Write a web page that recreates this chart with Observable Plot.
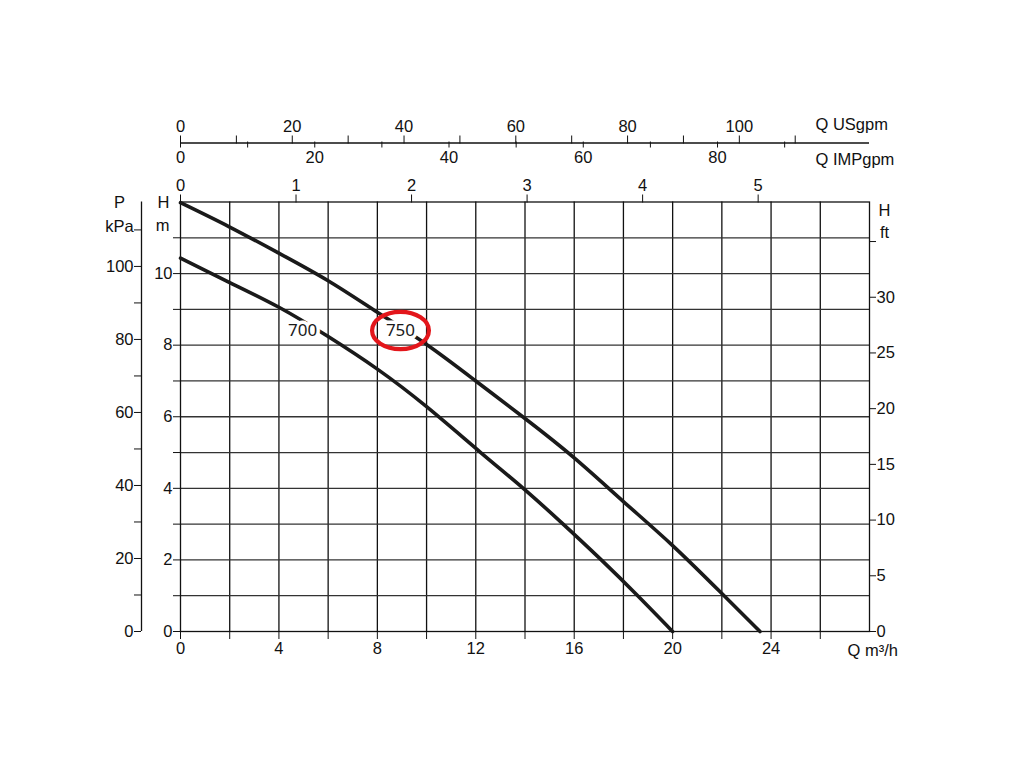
<!DOCTYPE html>
<html><head><meta charset="utf-8">
<script src="https://cdn.jsdelivr.net/npm/d3@7"></script>
<script src="https://cdn.jsdelivr.net/npm/@observablehq/plot@0.6"></script>
<style>html,body{margin:0;padding:0;background:#fff} svg{display:block}</style>
</head><body><div id="chart"></div>
<script>
// Pump performance curves: flow Q (m³/h) vs head H (m)
const q700 = [0, 2, 4, 6, 8, 10, 12.2, 13.93, 15.55, 17.1, 18.58, 20.0];
const h700 = [10.43, 9.75, 9.06, 8.24, 7.33, 6.28, 5.0, 4.0, 3.0, 2.0, 1.0, 0];
const q750 = [0, 2, 4, 6, 8, 10, 12, 14, 16, 18, 20, 22, 23.55];
const h750 = [11.98, 11.3, 10.57, 9.8, 8.92, 8.02, 7.0, 5.95, 4.85, 3.63, 2.4, 1.06, 0];

const curveNames = ["700", "750"];
const curveLabelQ = [4.96, 8.94];
const curveLabelH = [8.41, 8.41];
const highlighted = ["750"];

// axis tick values (in each axis' own unit)
const qTicks = [0, 2, 4, 6, 8, 10, 12, 14, 16, 18, 20, 22, 24, 26];
const qLabels = [0, 4, 8, 12, 16, 20, 24];
const qGridV = [2, 4, 6, 8, 10, 12, 14, 16, 18, 20, 22, 24, 26];
const hTicks = [0, 1, 2, 3, 4, 5, 6, 7, 8, 9, 10, 11];
const hLabels = [0, 2, 4, 6, 8, 10];
const hGrid = [1, 2, 3, 4, 5, 6, 7, 8, 9, 10, 11];
const kpaTicks = [0, 10, 20, 30, 40, 50, 60, 70, 80, 90, 100, 110];
const kpaLabels = [0, 20, 40, 60, 80, 100];
const ftTicks = [0, 5, 10, 15, 20, 25, 30, 35];
const ftLabels = [0, 5, 10, 15, 20, 25, 30];
const topTicks = [0, 1, 2, 3, 4, 5];
const usTicks = [0, 10, 20, 30, 40, 50, 60, 70, 80, 90, 100, 110];
const usLabels = [0, 20, 40, 60, 80, 100];
const impTicks = [0, 10, 20, 30, 40, 50, 60, 70, 80, 90];
const impLabels = [0, 20, 40, 60, 80];

// unit conversions as drawn on the chart
const M_PER_KPA = 0.102;
const M_PER_FT = 0.3113;
const M3H_PER_TOP = 4.695;
const M3H_PER_USGPM = 0.2271;
const M3H_PER_IMPGPM = 0.2728;

const fmt = (factor, labels) => d => {
  const v = Math.round(d / factor);
  return labels.includes(v) ? String(v) : "";
};

const ellipse = {
  draw(ctx, size) {
    const r = Math.sqrt(size / Math.PI), rx = r * 1.52, ry = r, k = 0.5523;
    ctx.moveTo(rx, 0);
    ctx.bezierCurveTo(rx, ry * k, rx * k, ry, 0, ry);
    ctx.bezierCurveTo(-rx * k, ry, -rx, ry * k, -rx, 0);
    ctx.bezierCurveTo(-rx, -ry * k, -rx * k, -ry, 0, -ry);
    ctx.bezierCurveTo(rx * k, -ry, rx, -ry * k, rx, 0);
    ctx.closePath();
  }
};

const d700 = q700.map((q, i) => ({q, h: h700[i]}));
const d750 = q750.map((q, i) => ({q, h: h750[i]}));
const labels = curveNames.map((name, i) => ({name, q: curveLabelQ[i], h: curveLabelH[i]}));

const ink = "#111";
const fs = 16.5;

const chart = Plot.plot({
  width: 1024,
  height: 768,
  marginLeft: 180,
  marginRight: 155,
  marginTop: 201.5,
  marginBottom: 137,
  style: {fontFamily: "'Liberation Sans', Arial, sans-serif", fontSize: fs + "px", color: ink, background: "#fff"},
  x: {domain: [0, 28]},
  y: {domain: [0, 12]},
  marks: [
    Plot.ruleX(qGridV, {stroke: ink, strokeWidth: 1.3}),
    Plot.ruleY(hGrid, {stroke: "#333", strokeWidth: 1.3}),
    Plot.frame({stroke: ink, strokeWidth: 1.3}),
    Plot.line(d700, {x: "q", y: "h", curve: "natural", stroke: "#1a1a1a", strokeWidth: 3.6}),
    Plot.line(d750, {x: "q", y: "h", curve: "natural", stroke: "#1a1a1a", strokeWidth: 3.6}),
    Plot.text(labels, {x: "q", y: "h", text: "name", fontFamily: "'Noto Sans', sans-serif", fontSize: 17,
      fill: "#1a1a1a", stroke: "white", strokeWidth: 7, lineAnchor: "middle"}),
    Plot.dot(labels.filter(d => highlighted.includes(d.name)), {x: "q", y: "h", r: 18.7, symbol: ellipse,
      fill: "none", stroke: "#e3161b", strokeWidth: 4.2}),

    // bottom: Q m³/h
    Plot.axisX(qTicks, {anchor: "bottom", tickSize: 8, label: null, tickFormat: fmt(1, qLabels)}),
    // top: secondary flow scale
    Plot.axisX(topTicks.map(v => v * M3H_PER_TOP), {anchor: "top", tickSize: 8, label: null, tickFormat: fmt(M3H_PER_TOP, topTicks)}),
    // USgpm (above shared line)
    Plot.ruleY([12], {dy: -59, stroke: ink, strokeWidth: 1.3}),
    Plot.axisX(usTicks.map(v => v * M3H_PER_USGPM), {anchor: "top", dy: -59, tickSize: 8, label: null, tickFormat: fmt(M3H_PER_USGPM, usLabels)}),
    // IMPgpm (below shared line)
    Plot.axisX(impTicks.map(v => v * M3H_PER_IMPGPM), {anchor: "bottom", dy: -489.5, tickSize: 6, label: null, tickFormat: fmt(M3H_PER_IMPGPM, impLabels)}),
    // left: H m
    Plot.axisY(hTicks, {anchor: "left", tickSize: 7, tickPadding: 1, label: null, tickFormat: fmt(1, hLabels)}),
    // left outer: P kPa
    Plot.ruleX([0], {dx: -39, stroke: ink, strokeWidth: 1.3}),
    Plot.axisY(kpaTicks.map(v => v * M_PER_KPA), {anchor: "left", dx: -39, tickSize: 7, tickPadding: 1, label: null, tickFormat: fmt(M_PER_KPA, kpaLabels)}),
    // right: H ft
    Plot.axisY(ftTicks.map(v => v * M_PER_FT), {anchor: "right", tickSize: 6, tickPadding: 1, label: null, tickFormat: fmt(M_PER_FT, ftLabels)}),

    // unit labels
    Plot.text(["Q m³/h"], {frameAnchor: "bottom-right", textAnchor: "start", lineAnchor: "middle", dx: -22, dy: 19}),
    Plot.text(["Q USgpm"], {frameAnchor: "top-right", textAnchor: "start", lineAnchor: "middle", dx: -54, dy: -77.5}),
    Plot.text(["Q IMPgpm"], {frameAnchor: "top-right", textAnchor: "start", lineAnchor: "middle", dx: -54, dy: -42.5}),
    Plot.text(["H"], {frameAnchor: "top-right", textAnchor: "middle", lineAnchor: "middle", dx: 15, dy: 8.5}),
    Plot.text(["ft"], {frameAnchor: "top-right", textAnchor: "middle", lineAnchor: "middle", dx: 15, dy: 31}),
    Plot.text(["H"], {frameAnchor: "top-left", textAnchor: "middle", lineAnchor: "middle", dx: -17, dy: 0.5}),
    Plot.text(["m"], {frameAnchor: "top-left", textAnchor: "middle", lineAnchor: "middle", dx: -18, dy: 23.5}),
    Plot.text(["P"], {frameAnchor: "top-left", textAnchor: "middle", lineAnchor: "middle", dx: -61, dy: 0.5}),
    Plot.text(["kPa"], {frameAnchor: "top-left", textAnchor: "middle", lineAnchor: "middle", dx: -61, dy: 25})
  ]
});
document.getElementById("chart").appendChild(chart);
</script>
</body></html>
